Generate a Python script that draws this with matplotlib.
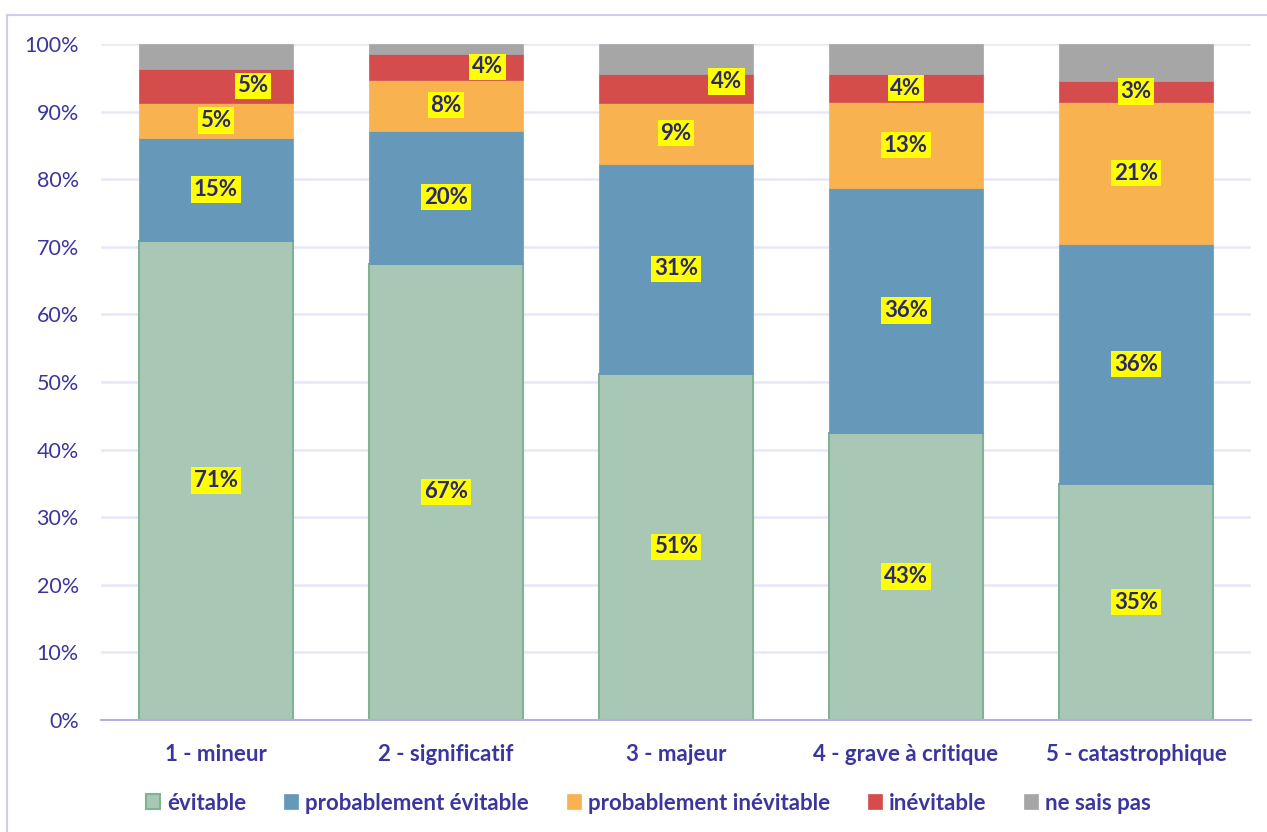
import numpy as np
import matplotlib
matplotlib.use("Agg")
import matplotlib.pyplot as plt
from matplotlib.patches import Rectangle

plt.rcParams['font.family'] = ['Lato', 'DejaVu Sans']

categories = ["1 - mineur", "2 - significatif", "3 - majeur",
              "4 - grave à critique", "5 - catastrophique"]
series_names = ["évitable", "probablement évitable", "probablement inévitable",
                "inévitable", "ne sais pas"]
evitable = [70.9, 67.5, 51.2, 42.5, 34.9]
prob_evitable = [15.2, 19.7, 31.1, 36.2, 35.5]
prob_inevitable = [5.2, 7.5, 9.0, 12.7, 21.0]
inevitable = [5.0, 3.8, 4.3, 4.1, 3.1]
ne_sais_pas = [3.7, 1.5, 4.4, 4.5, 5.5]
# étiquettes affichées (pas de label pour "ne sais pas")
shown = [
    ["71%", "67%", "51%", "43%", "35%"],
    ["15%", "20%", "31%", "36%", "36%"],
    ["5%", "8%", "9%", "13%", "21%"],
    ["5%", "4%", "4%", "4%", "3%"],
]

series = [evitable, prob_evitable, prob_inevitable, inevitable, ne_sais_pas]
colors = ["#a8c8b5", "#6598b9", "#f8b250", "#d44c4c", "#a6a6a6"]
edges = ["#7fb393", "#6598b9", "#f8b250", "#d44c4c", "#a6a6a6"]
lab_dx = [[0] * 5, [0] * 5, [0] * 5, [0.16, 0.18, 0.22, 0, 0]]
lab_dy = [[0] * 5, [0] * 5, [0] * 5, [0, 0, 1.0, 0, 0]]

txt_col = "#3b369c"
lab_col = "#2b296b"

fig = plt.figure(figsize=(12.67, 8.32), dpi=100)
ax = fig.add_axes([101 / 1267, 1 - 720 / 832, 1150 / 1267, 676 / 832])

# cadre du graphique
fig.patches.append(Rectangle((7 / 1267, -0.05), 1.1, 1 - 15 / 832 + 0.05,
                             transform=fig.transFigure, fill=False,
                             edgecolor="#d0cdea", linewidth=1.5))

x = np.arange(len(categories))
bottom = np.zeros(len(categories))
for i, (vals, name) in enumerate(zip(series, series_names)):
    ax.bar(x, vals, 0.67, bottom=bottom, color=colors[i], edgecolor=edges[i],
           linewidth=1.5 if i == 0 else 0.5, label=name, zorder=3)
    if i < 4:
        for j in range(len(categories)):
            yc = bottom[j] + vals[j] / 2 + lab_dy[i][j]
            ax.text(x[j] + lab_dx[i][j], yc, shown[i][j], ha="center", va="center",
                    fontsize=16, fontweight="bold", color=lab_col, zorder=5,
                    bbox=dict(boxstyle="square,pad=0.12", facecolor="#ffff00",
                              edgecolor="none"))
    bottom += np.array(vals)

ax.set_xlim(-0.5, 4.5)
ax.set_ylim(0, 100)
ax.set_yticks(np.arange(0, 101, 10))
ax.set_yticklabels([f"{v}%" for v in range(0, 101, 10)])
ax.set_xticks(x)
ax.set_xticklabels(categories, fontweight="bold")
ax.tick_params(axis="y", length=0, pad=16, labelsize=15.5, labelcolor=txt_col)
ax.tick_params(axis="x", length=0, pad=17, labelsize=16, labelcolor=txt_col)
ax.grid(axis="y", color="#e8e6f7", linewidth=1.8, zorder=0)
for s in ["top", "right", "left"]:
    ax.spines[s].set_visible(False)
ax.spines["bottom"].set_color("#b3afe0")
ax.spines["bottom"].set_linewidth(1.5)
ax.spines["bottom"].set_zorder(4)

leg = fig.legend(loc="center", bbox_to_anchor=(0.5 + 15 / 1267, 1 - 803 / 832), ncol=5,
                 frameon=False, handlelength=0.65, handleheight=0.65,
                 handletextpad=0.3, columnspacing=1.7,
                 prop={"size": 16, "weight": "bold"})
for t in leg.get_texts():
    t.set_color(txt_col)

plt.savefig("out.png", dpi=100)
